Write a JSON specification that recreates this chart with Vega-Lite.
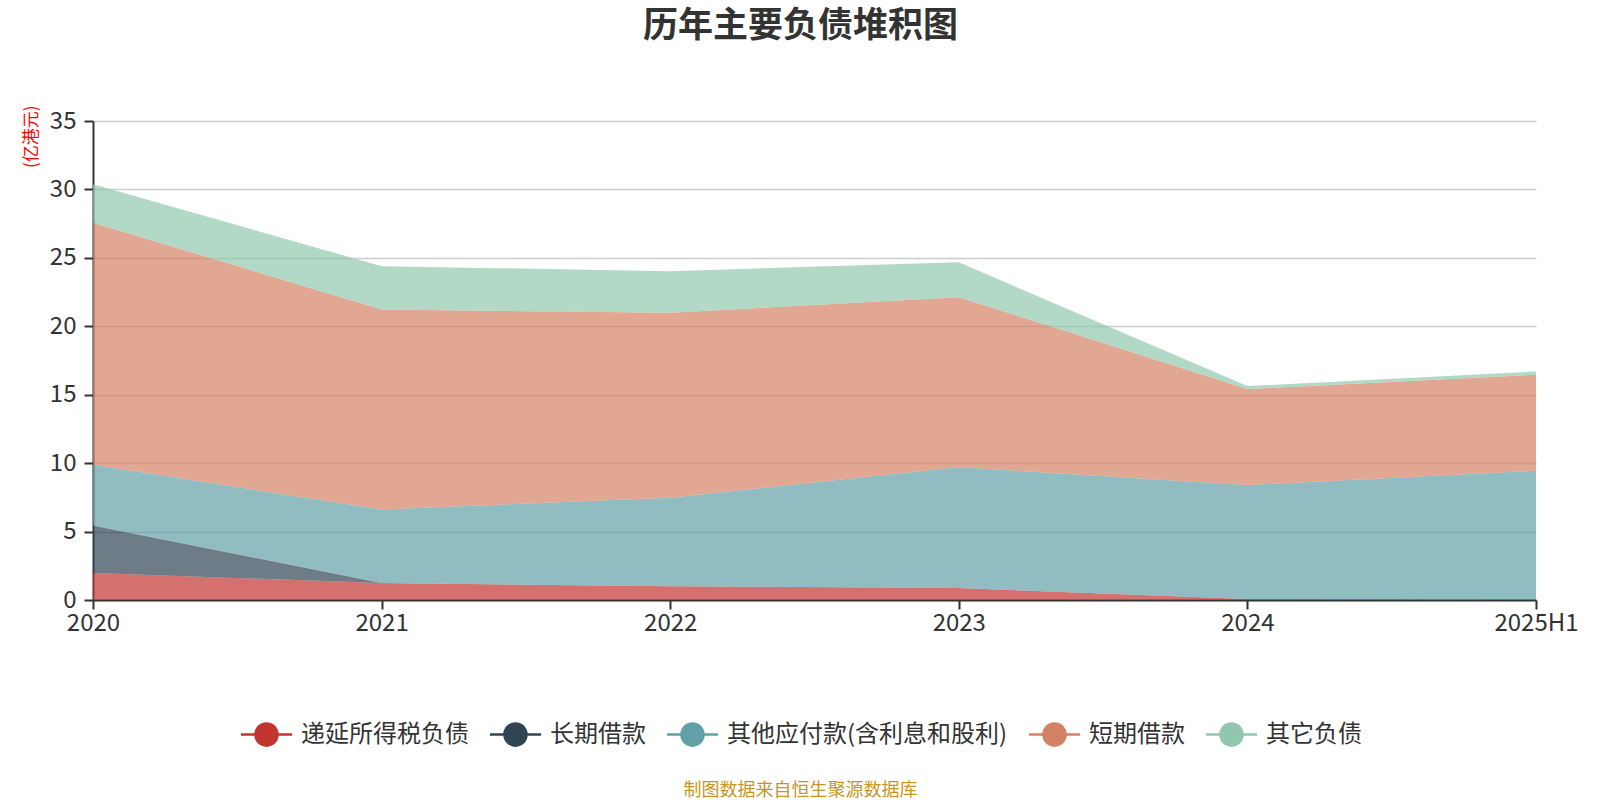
{
  "$schema": "https://vega.github.io/schema/vega-lite/v6.json",
  "autosize": {"type": "none"},
  "width": 1443,
  "height": 479,
  "padding": {"left": 93, "top": 121, "right": 64, "bottom": 200},
  "background": "white",
  "title": {
    "text": "历年主要负债堆积图",
    "font": "Noto Sans CJK SC",
    "fontSize": 35,
    "fontWeight": "bold",
    "color": "#333333",
    "anchor": "middle",
    "baseline": "middle",
    "offset": 44,
    "dx": -14
  },
  "data": {
    "values": [
      {"year": "2020", "item": "递延所得税负债", "idx": 1, "value": 1.97},
      {"year": "2020", "item": "长期借款", "idx": 2, "value": 3.48},
      {"year": "2020", "item": "其他应付款(含利息和股利)", "idx": 3, "value": 4.43},
      {"year": "2020", "item": "短期借款", "idx": 4, "value": 17.69},
      {"year": "2020", "item": "其它负债", "idx": 5, "value": 2.80},
      {"year": "2021", "item": "递延所得税负债", "idx": 1, "value": 1.24},
      {"year": "2021", "item": "长期借款", "idx": 2, "value": 0},
      {"year": "2021", "item": "其他应付款(含利息和股利)", "idx": 3, "value": 5.38},
      {"year": "2021", "item": "短期借款", "idx": 4, "value": 14.60},
      {"year": "2021", "item": "其它负债", "idx": 5, "value": 3.17},
      {"year": "2022", "item": "递延所得税负债", "idx": 1, "value": 1.00},
      {"year": "2022", "item": "长期借款", "idx": 2, "value": 0},
      {"year": "2022", "item": "其他应付款(含利息和股利)", "idx": 3, "value": 6.48},
      {"year": "2022", "item": "短期借款", "idx": 4, "value": 13.50},
      {"year": "2022", "item": "其它负债", "idx": 5, "value": 3.05},
      {"year": "2023", "item": "递延所得税负债", "idx": 1, "value": 0.88},
      {"year": "2023", "item": "长期借款", "idx": 2, "value": 0},
      {"year": "2023", "item": "其他应付款(含利息和股利)", "idx": 3, "value": 8.83},
      {"year": "2023", "item": "短期借款", "idx": 4, "value": 12.42},
      {"year": "2023", "item": "其它负债", "idx": 5, "value": 2.54},
      {"year": "2024", "item": "递延所得税负债", "idx": 1, "value": 0.08},
      {"year": "2024", "item": "长期借款", "idx": 2, "value": 0},
      {"year": "2024", "item": "其他应付款(含利息和股利)", "idx": 3, "value": 8.32},
      {"year": "2024", "item": "短期借款", "idx": 4, "value": 7.01},
      {"year": "2024", "item": "其它负债", "idx": 5, "value": 0.22},
      {"year": "2025H1", "item": "递延所得税负债", "idx": 1, "value": 0.05},
      {"year": "2025H1", "item": "长期借款", "idx": 2, "value": 0},
      {"year": "2025H1", "item": "其他应付款(含利息和股利)", "idx": 3, "value": 9.40},
      {"year": "2025H1", "item": "短期借款", "idx": 4, "value": 7.01},
      {"year": "2025H1", "item": "其它负债", "idx": 5, "value": 0.24}
    ]
  },
  "mark": {"type": "area", "fillOpacity": 0.7, "strokeWidth": 0},
  "encoding": {
    "x": {
      "field": "year",
      "type": "ordinal",
      "scale": {"padding": 0},
      "axis": {
        "labelAngle": 0,
        "labelFontSize": 24,
        "labelFont": "Noto Sans CJK SC",
        "labelColor": "#333333",
        "labelPadding": 2,
        "tickSize": 9,
        "tickColor": "#333333",
        "tickWidth": 2,
        "domainColor": "#333333",
        "domainWidth": 2,
        "grid": false,
        "title": "制图数据来自恒生聚源数据库",
        "titleColor": "#c7961f",
        "titleFont": "Noto Sans CJK SC",
        "titleFontSize": 18,
        "titleFontWeight": "normal",
        "titleX": 707,
        "titleY": 190,
        "titleAlign": "center",
        "titleBaseline": "middle"
      }
    },
    "y": {
      "field": "value",
      "type": "quantitative",
      "stack": "zero",
      "scale": {"domain": [0, 35]},
      "axis": {
        "values": [0, 5, 10, 15, 20, 25, 30, 35],
        "labelFontSize": 24,
        "labelFont": "Noto Sans CJK SC",
        "labelColor": "#333333",
        "labelPadding": 8,
        "tickSize": 9,
        "tickColor": "#333333",
        "tickWidth": 2,
        "domainColor": "#333333",
        "domainWidth": 2,
        "gridColor": "#cccccc",
        "gridWidth": 1.5,
        "title": "(亿港元)",
        "titleColor": "#ff0000",
        "titleFont": "Noto Sans CJK SC",
        "titleFontSize": 17,
        "titleFontWeight": "normal",
        "titleAngle": -90,
        "titleX": -62,
        "titleY": -16,
        "titleAlign": "right",
        "titleBaseline": "middle"
      }
    },
    "order": {"field": "idx", "type": "quantitative", "sort": "ascending"},
    "color": {
      "field": "item",
      "type": "nominal",
      "scale": {
        "domain": ["递延所得税负债", "长期借款", "其他应付款(含利息和股利)", "短期借款", "其它负债"],
        "range": ["#c23531", "#2f4554", "#61a0a8", "#d48265", "#91c7ae"]
      },
      "legend": {
        "orient": "none",
        "legendX": 148,
        "legendY": 601,
        "direction": "horizontal",
        "title": null,
        "symbolType": "M-2.08,-0.1L-0.9,-0.1L-0.9,0.1L-2.08,0.1Z M0.9,-0.1L2.08,-0.1L2.08,0.1L0.9,0.1Z M0,-1A1,1 0 1,1 0,1A1,1 0 1,1 0,-1Z",
        "symbolSize": 605,
        "symbolStrokeWidth": 0,
        "symbolOpacity": 1,
        "symbolOffset": 13,
        "labelOffset": 22,
        "labelFont": "Noto Sans CJK SC",
        "labelFontSize": 24,
        "labelColor": "#333333",
        "labelLimit": 400,
        "columnPadding": 20
      }
    }
  },
  "config": {"view": {"stroke": null}}
}
